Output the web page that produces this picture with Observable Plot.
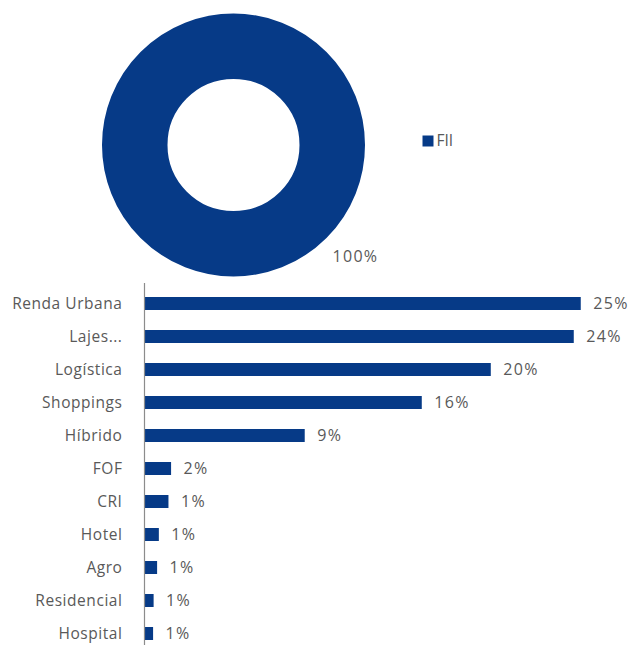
<!DOCTYPE html>
<html><head><meta charset="utf-8">
<script src="https://cdn.jsdelivr.net/npm/d3@7"></script>
<script src="https://cdn.jsdelivr.net/npm/@observablehq/plot@0.6"></script>
<style>
html,body{margin:0;padding:0;background:#fff;overflow:hidden;}
#chart{width:632px;height:645px;position:relative;overflow:hidden;}
svg{display:block;}
.val text{letter-spacing:1.3px;}
.cat text{letter-spacing:0.55px;}
</style></head><body><div id="chart"></div>
<script>
// Donut data
const pieCategories = ["FII"];
const pieValues = [100];
const pieLabels = ["100%"];

// Bar data
const categories = ["Renda Urbana", "Lajes...", "Logística", "Shoppings", "Híbrido", "FOF", "CRI", "Hotel", "Agro", "Residencial", "Hospital"];
const values = [25.0, 24.6, 19.85, 15.9, 9.2, 1.55, 1.4, 0.85, 0.75, 0.55, 0.52];
const valueLabels = ["25%", "24%", "20%", "16%", "9%", "2%", "1%", "1%", "1%", "1%", "1%"];

const BLUE = "#063a87";
const TEXT = "#595959";
const FONT = "'Open Sans', Lato, sans-serif";

const pieData = pieCategories.map((c, i) => ({cat: c, value: pieValues[i], label: pieLabels[i]}));
const barData = categories.map((c, i) => ({cat: c, value: values[i], label: valueLabels[i]}));

// Donut (single 100% slice -> full ring)
const outerR = 131.5, innerR = 66;
const total = d3.sum(pieValues);
const donut = Plot.plot({
  width: 632, height: 283,
  marginLeft: 101.5, marginRight: 267.5, marginTop: 13, marginBottom: 7,
  style: {fontFamily: FONT, fontSize: "15px", color: TEXT, background: "transparent"},
  marks: [
    Plot.dot(pieData.filter(d => d.value / total >= 0.999), {
      frameAnchor: "middle", r: (outerR + innerR) / 2,
      stroke: BLUE, strokeWidth: outerR - innerR, fill: "none"
    }),
    Plot.text(pieData, {frameAnchor: "middle", text: "label", dx: 99, dy: 111.5, textAnchor: "start", fill: TEXT, fontSize: 16, className: "val"}),
    Plot.dot(pieData, {frameAnchor: "middle", dx: 194.5, dy: -4, symbol: "square", r: 6.2, fill: BLUE, stroke: "none"}),
    Plot.text(pieData, {frameAnchor: "middle", text: "cat", dx: 203, dy: -4, textAnchor: "start", fill: TEXT, fontSize: 15.5})
  ]
});

// Bars
const pxPerUnit = 17.47;
const bars = Plot.plot({
  width: 632, height: 371,
  marginLeft: 144, marginRight: 0, marginTop: 0, marginBottom: 0,
  style: {fontFamily: FONT, fontSize: "15.5px", color: TEXT, background: "transparent"},
  x: {domain: [0, 28], range: [144, 144 + 28 * pxPerUnit], axis: null},
  y: {domain: categories, range: [1.8, 369.2], paddingInner: 0.61, paddingOuter: 0.305, label: null},
  marks: [
    Plot.barX(barData, {x: "value", y: "cat", fill: BLUE}),
    Plot.ruleX([0], {stroke: "#8c8c8c", strokeWidth: 1.2}),
    Plot.axisY({tickSize: 0, tickPadding: 22, fontSize: 15.5, label: null, className: "cat"}),
    Plot.text(barData, {x: "value", y: "cat", text: "label", dx: 12, textAnchor: "start", fill: TEXT, fontSize: 16, className: "val"})
  ]
});

const root = document.getElementById("chart");
root.appendChild(donut);
root.appendChild(bars);
</script>
</body></html>
